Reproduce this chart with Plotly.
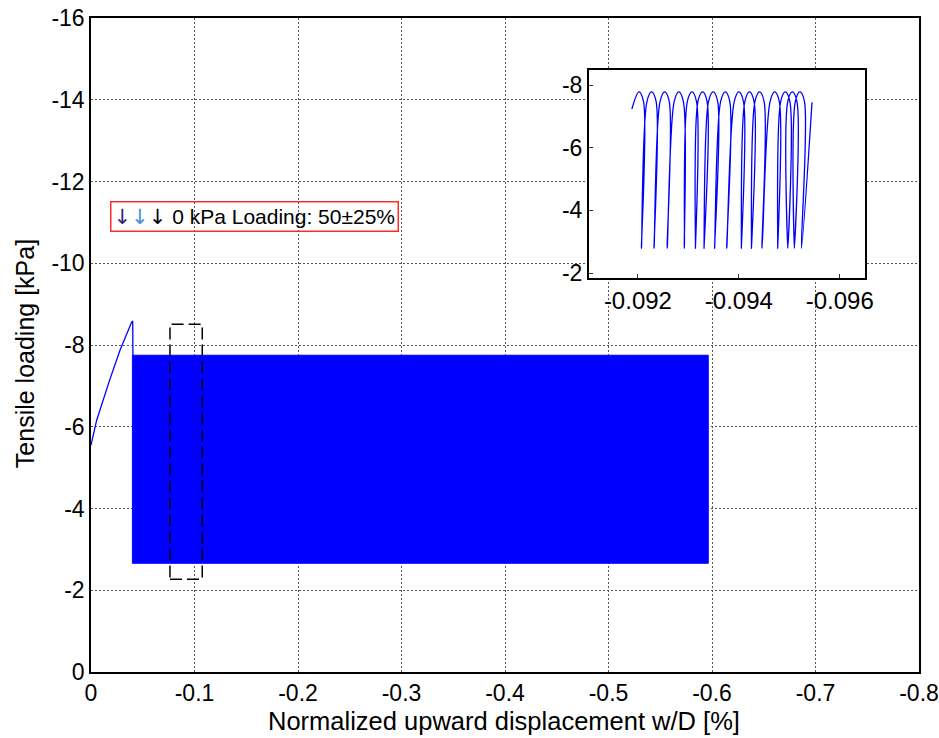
import plotly.graph_objects as go

# ---------------- data ----------------
# monotonic pull-out before cycling
load_x = [0.0, -0.0055, -0.0180, -0.0280, -0.0393, -0.0403, -0.0405]
load_y = [-5.55, -6.16, -7.14, -7.87, -8.56, -8.59, -7.75]

# envelope of the dense cyclic block
cyc_x = [-0.0400, -0.5964]
cyc_min = -2.66
cyc_max = -7.75

# zoom window (dashed box)
zoom_x = [-0.0763, -0.1075]
zoom_y = [-2.27, -8.51]

# inset: first cycles (apex / bottom displacement of each cycle)
inset_start = [-0.09188, -7.23]
inset_apex_x = [-0.09202, -0.09227, -0.09253, -0.09281, -0.09307, -0.09328, -0.09349,
                -0.09373, -0.09400, -0.09421, -0.09441, -0.09471, -0.09492, -0.09506, -0.09521]
inset_bottom_x = [-0.09207, -0.09232, -0.09258, -0.09292, -0.09314, -0.09331, -0.09352,
                  -0.09376, -0.09405, -0.09425, -0.09446, -0.09477, -0.09497, -0.09510, -0.09524]
inset_top_y = -7.78
inset_bot_y = -2.79
inset_end = [-0.09545, -7.45]

# axis ranges
main_xrange = [0, -0.8]
main_yrange = [0, -16]
inset_xrange = [-0.09103, -0.0965]
inset_yrange = [-1.84, -8.48]

# ticks
main_xticks = [0, -0.1, -0.2, -0.3, -0.4, -0.5, -0.6, -0.7, -0.8]
main_xlabels = ["0", "-0.1", "-0.2", "-0.3", "-0.4", "-0.5", "-0.6", "-0.7", "-0.8"]
main_yticks = [0, -2, -4, -6, -8, -10, -12, -14, -16]
main_ylabels = ["0", "-2", "-4", "-6", "-8", "-10", "-12", "-14", "-16"]
inset_xticks = [-0.092, -0.094, -0.096]
inset_xlabels = ["-0.092", "-0.094", "-0.096"]
inset_yticks = [-2, -4, -6, -8]
inset_ylabels = ["-2", "-4", "-6", "-8"]

# ---------------- build inset path ----------------
sh = 0.00009
ix, iy = [inset_start[0]], [inset_start[1]]
for k, (a, b) in enumerate(zip(inset_apex_x, inset_bottom_x)):
    if k > 0:
        ix.append(a + sh); iy.append(inset_top_y + 0.3)
    ix.append(a); iy.append(inset_top_y)
    ix.append(a - sh); iy.append(inset_top_y + 0.3)
    ix.append(b); iy.append(inset_bot_y)
ix.append(inset_end[0]); iy.append(inset_end[1])

FONT = "Liberation Sans, Arial, sans-serif"
BLUE = "#0000ff"

fig = go.Figure()

fig.add_trace(go.Scatter(x=load_x, y=load_y, mode="lines",
                         line=dict(color=BLUE, width=1.3), showlegend=False,
                         xaxis="x", yaxis="y"))
fig.add_trace(go.Scatter(x=[cyc_x[0], cyc_x[1], cyc_x[1], cyc_x[0], cyc_x[0]],
                         y=[cyc_min, cyc_min, cyc_max, cyc_max, cyc_min],
                         mode="lines", fill="toself", fillcolor=BLUE,
                         line=dict(color=BLUE, width=1), showlegend=False,
                         xaxis="x", yaxis="y"))
# white background of the inset (hides the main grid behind it)
fig.add_trace(go.Scatter(x=[inset_xrange[0], inset_xrange[1], inset_xrange[1], inset_xrange[0], inset_xrange[0]],
                         y=[inset_yrange[0], inset_yrange[0], inset_yrange[1], inset_yrange[1], inset_yrange[0]],
                         mode="lines", fill="toself", fillcolor="white",
                         line=dict(color="white", width=0), showlegend=False,
                         hoverinfo="skip", xaxis="x2", yaxis="y2"))
fig.add_trace(go.Scatter(x=ix, y=iy, mode="lines",
                         line=dict(color=BLUE, width=1.3, shape="spline", smoothing=1.0),
                         showlegend=False, xaxis="x2", yaxis="y2"))

fig.add_shape(type="rect", xref="x", yref="y",
              x0=zoom_x[0], x1=zoom_x[1], y0=zoom_y[0], y1=zoom_y[1],
              line=dict(color="black", width=1.5, dash="12px,5px"))

grid = dict(showgrid=True, gridcolor="#555555", gridwidth=1, griddash="2px,2px")

fig.update_layout(
    width=939, height=738,
    margin=dict(l=91, r=20, t=18, b=66, autoexpand=False),
    paper_bgcolor="white", plot_bgcolor="white",
    font=dict(family=FONT, color="black"),
    showlegend=False,
    xaxis=dict(domain=[0, 1], range=main_xrange, tickvals=main_xticks, ticktext=main_xlabels,
               tickfont=dict(size=23), showline=True, linecolor="black", linewidth=1.5,
               mirror=True, zeroline=False, ticks="", ticklabeloverflow="allow",
               automargin=False, **grid),
    yaxis=dict(domain=[0, 1], range=main_yrange, tickvals=main_yticks, ticktext=main_ylabels,
               tickfont=dict(size=23), showline=True, linecolor="black", linewidth=1.5,
               mirror=True, zeroline=False, ticks="", ticklabeloverflow="allow",
               automargin=False, **grid),
    xaxis2=dict(domain=[0.6014, 0.9348], range=inset_xrange, anchor="y2",
                tickvals=inset_xticks, ticktext=inset_xlabels, tickfont=dict(size=24),
                showline=True, linecolor="black", linewidth=2, mirror=True, automargin=False,
                ticks="inside", ticklen=4, tickcolor="#333", showgrid=False, zeroline=False),
    yaxis2=dict(domain=[0.6024, 0.9205], range=inset_yrange, anchor="x2",
                tickvals=inset_yticks, ticktext=inset_ylabels, tickfont=dict(size=23),
                showline=True, linecolor="black", linewidth=2, mirror=True, automargin=False,
                ticks="inside", ticklen=4, tickcolor="#333", showgrid=False, zeroline=False),
)

fig.add_annotation(xref="paper", yref="paper", x=0.4982, y=-0.0755,
                   text="Normalized upward displacement w/D [%]", showarrow=False,
                   xanchor="center", yanchor="middle", font=dict(size=25.5))
fig.add_annotation(xref="paper", yref="paper", x=-0.0797, y=0.486,
                   text="Tensile loading [kPa]", showarrow=False, textangle=-90,
                   xanchor="center", yanchor="middle", font=dict(size=25))
fig.add_annotation(xref="paper", yref="paper", x=0.0229, y=0.6965,
                   text=('<span style="color:#2e2a80;font-family:DejaVu Sans;font-size:21px">↓</span>'
                         '<span style="color:#4a8fd8;font-family:DejaVu Sans;font-size:21px">↓</span>'
                         '<span style="color:#000000;font-family:DejaVu Sans;font-size:21px">↓</span>'
                         ' 0 kPa Loading: 50±25%'),
                   showarrow=False, xanchor="left", yanchor="middle",
                   font=dict(size=21), bordercolor="#ff2a2a", borderwidth=1.5, borderpad=2)

fig.write_html("out.html")
